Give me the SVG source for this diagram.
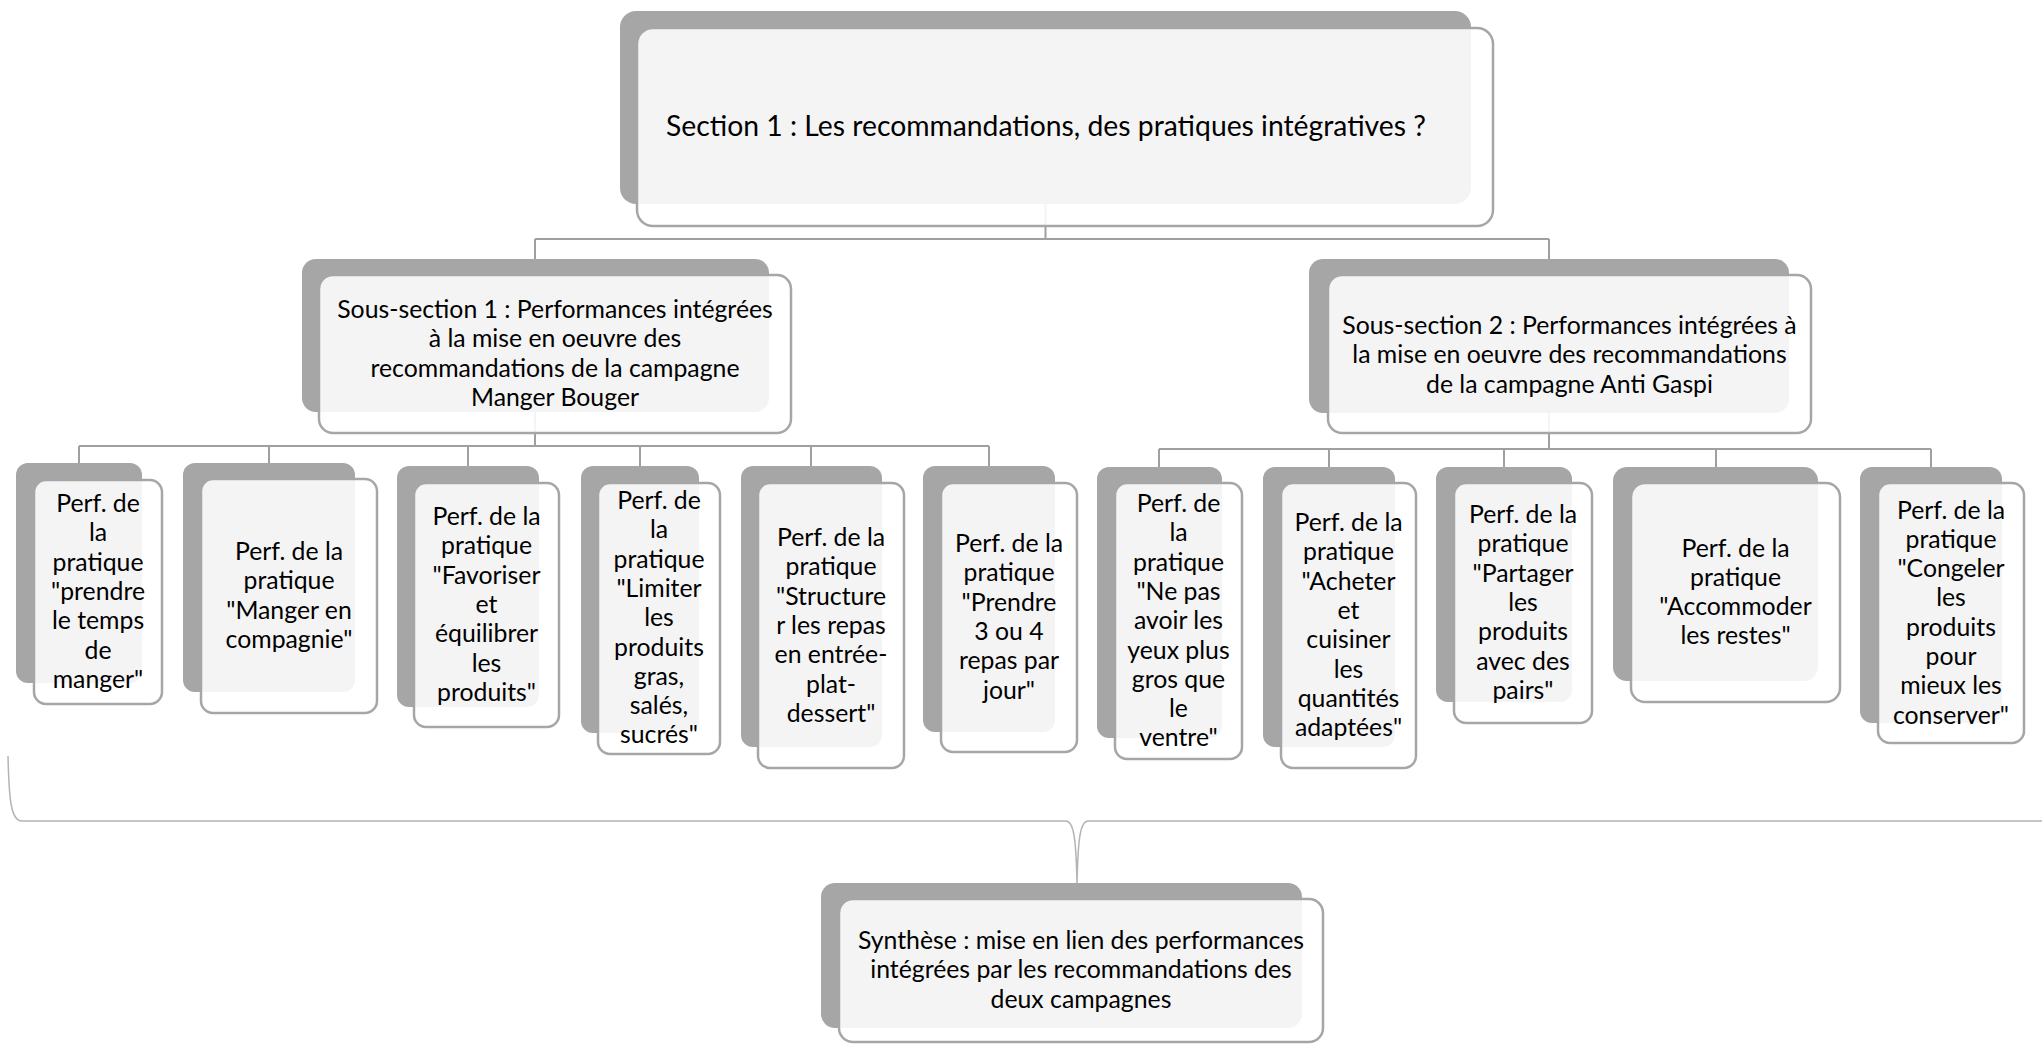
<svg xmlns="http://www.w3.org/2000/svg" width="2042" height="1046" viewBox="0 0 2042 1046">
<style>
.bg{fill:#ffffff}
.back{fill:#a6a6a6}
.front{fill:#ffffff;fill-opacity:0.88;stroke:#a6a6a6;stroke-width:2.5}
.t{font-family:Lato,"Open Sans",sans-serif;font-size:24.8px;fill:#000000;text-anchor:middle}
.title{font-size:28.3px}
.conn{fill:none;stroke:#a0a0a0;stroke-width:2}
.brace{fill:none;stroke:#b4b4b4;stroke-width:1.5}
</style>
<rect class="bg" x="0" y="0" width="2042" height="1046"/>
<g id="connectors">
<path class="conn" d="M1045.5,204 V239 M535,239 H1549 M535,239 V259 M1549,239 V259"/>
<path class="conn" d="M535,412 V446 M79,446 H989 M79,446 V463 M269,446 V463 M468,446 V466 M640,446 V466 M811,446 V466 M989,446 V466"/>
<path class="conn" d="M1549,413 V449 M1159,449 H1931 M1159,449 V467 M1329,449 V467 M1504,449 V467 M1716,449 V467 M1931,449 V467"/>
<path class="brace" d="M8,756 C9,800 11,821 22,821 L1066,821 C1074,821 1076,840 1077,883 C1078,840 1080,821 1088,821 L2050,821"/>
</g>
<g id="node-section1">
<rect class="back" x="620" y="11" width="851" height="193" rx="16"/>
<rect class="front" x="637" y="28" width="856" height="198" rx="16"/>
<text class="t title" x="1046" y="136">Section 1 : Les recommandations, des pratiques intégratives ?</text>
</g>
<g id="node-sous-section1">
<rect class="back" x="302" y="259" width="467" height="153" rx="14"/>
<rect class="front" x="319" y="275" width="472" height="158" rx="14"/>
<text class="t" y="318"><tspan x="555">Sous-section 1 : Performances intégrées</tspan><tspan x="555" dy="29.3">à la mise en oeuvre des</tspan><tspan x="555" dy="29.3">recommandations de la campagne</tspan><tspan x="555" dy="29.3">Manger Bouger</tspan></text>
</g>
<g id="node-sous-section2">
<rect class="back" x="1309" y="259" width="480" height="154" rx="14"/>
<rect class="front" x="1328" y="275" width="483" height="158" rx="14"/>
<text class="t" y="334"><tspan x="1569.5">Sous-section 2 : Performances intégrées à</tspan><tspan x="1569.5" dy="29.3">la mise en oeuvre des recommandations</tspan><tspan x="1569.5" dy="29.3">de la campagne Anti Gaspi</tspan></text>
</g>
<g id="node-leaf1">
<rect class="back" x="16" y="463" width="126" height="220" rx="12"/>
<rect class="front" x="34" y="480" width="128" height="224" rx="12"/>
<text class="t" y="512"><tspan x="98">Perf. de</tspan><tspan x="98" dy="29.3">la</tspan><tspan x="98" dy="29.3">pratique</tspan><tspan x="98" dy="29.3">"prendre</tspan><tspan x="98" dy="29.3">le temps</tspan><tspan x="98" dy="29.3">de</tspan><tspan x="98" dy="29.3">manger"</tspan></text>
</g>
<g id="node-leaf2">
<rect class="back" x="183" y="463" width="172" height="229" rx="12"/>
<rect class="front" x="201" y="479" width="176" height="234" rx="12"/>
<text class="t" y="560"><tspan x="289">Perf. de la</tspan><tspan x="289" dy="29.3">pratique</tspan><tspan x="289" dy="29.3">"Manger en</tspan><tspan x="289" dy="29.3">compagnie"</tspan></text>
</g>
<g id="node-leaf3">
<rect class="back" x="397" y="466" width="142" height="241" rx="12"/>
<rect class="front" x="414" y="483" width="145" height="244" rx="12"/>
<text class="t" y="525"><tspan x="486.5">Perf. de la</tspan><tspan x="486.5" dy="29.3">pratique</tspan><tspan x="486.5" dy="29.3">"Favoriser</tspan><tspan x="486.5" dy="29.3">et</tspan><tspan x="486.5" dy="29.3">équilibrer</tspan><tspan x="486.5" dy="29.3">les</tspan><tspan x="486.5" dy="29.3">produits"</tspan></text>
</g>
<g id="node-leaf4">
<rect class="back" x="581" y="466" width="118" height="267" rx="12"/>
<rect class="front" x="598" y="483" width="122" height="271" rx="12"/>
<text class="t" y="509"><tspan x="659">Perf. de</tspan><tspan x="659" dy="29.3">la</tspan><tspan x="659" dy="29.3">pratique</tspan><tspan x="659" dy="29.3">"Limiter</tspan><tspan x="659" dy="29.3">les</tspan><tspan x="659" dy="29.3">produits</tspan><tspan x="659" dy="29.3">gras,</tspan><tspan x="659" dy="29.3">salés,</tspan><tspan x="659" dy="29.3">sucrés"</tspan></text>
</g>
<g id="node-leaf5">
<rect class="back" x="741" y="466" width="141" height="281" rx="12"/>
<rect class="front" x="758" y="483" width="146" height="285" rx="12"/>
<text class="t" y="546"><tspan x="831">Perf. de la</tspan><tspan x="831" dy="29.3">pratique</tspan><tspan x="831" dy="29.3">"Structure</tspan><tspan x="831" dy="29.3">r les repas</tspan><tspan x="831" dy="29.3">en entrée-</tspan><tspan x="831" dy="29.3">plat-</tspan><tspan x="831" dy="29.3">dessert"</tspan></text>
</g>
<g id="node-leaf6">
<rect class="back" x="923" y="466" width="132" height="266" rx="12"/>
<rect class="front" x="941" y="483" width="136" height="269" rx="12"/>
<text class="t" y="552"><tspan x="1009">Perf. de la</tspan><tspan x="1009" dy="29.3">pratique</tspan><tspan x="1009" dy="29.3">"Prendre</tspan><tspan x="1009" dy="29.3">3 ou 4</tspan><tspan x="1009" dy="29.3">repas par</tspan><tspan x="1009" dy="29.3">jour"</tspan></text>
</g>
<g id="node-leaf7">
<rect class="back" x="1097" y="467" width="125" height="271" rx="12"/>
<rect class="front" x="1115" y="483" width="127" height="276" rx="12"/>
<text class="t" y="512"><tspan x="1178.5">Perf. de</tspan><tspan x="1178.5" dy="29.3">la</tspan><tspan x="1178.5" dy="29.3">pratique</tspan><tspan x="1178.5" dy="29.3">"Ne pas</tspan><tspan x="1178.5" dy="29.3">avoir les</tspan><tspan x="1178.5" dy="29.3">yeux plus</tspan><tspan x="1178.5" dy="29.3">gros que</tspan><tspan x="1178.5" dy="29.3">le</tspan><tspan x="1178.5" dy="29.3">ventre"</tspan></text>
</g>
<g id="node-leaf8">
<rect class="back" x="1263" y="467" width="132" height="280" rx="12"/>
<rect class="front" x="1281" y="483" width="135" height="285" rx="12"/>
<text class="t" y="531"><tspan x="1348.5">Perf. de la</tspan><tspan x="1348.5" dy="29.3">pratique</tspan><tspan x="1348.5" dy="29.3">"Acheter</tspan><tspan x="1348.5" dy="29.3">et</tspan><tspan x="1348.5" dy="29.3">cuisiner</tspan><tspan x="1348.5" dy="29.3">les</tspan><tspan x="1348.5" dy="29.3">quantités</tspan><tspan x="1348.5" dy="29.3">adaptées"</tspan></text>
</g>
<g id="node-leaf9">
<rect class="back" x="1436" y="467" width="136" height="235" rx="12"/>
<rect class="front" x="1454" y="483" width="138" height="240" rx="12"/>
<text class="t" y="523"><tspan x="1523">Perf. de la</tspan><tspan x="1523" dy="29.3">pratique</tspan><tspan x="1523" dy="29.3">"Partager</tspan><tspan x="1523" dy="29.3">les</tspan><tspan x="1523" dy="29.3">produits</tspan><tspan x="1523" dy="29.3">avec des</tspan><tspan x="1523" dy="29.3">pairs"</tspan></text>
</g>
<g id="node-leaf10">
<rect class="back" x="1613" y="467" width="205" height="214" rx="14"/>
<rect class="front" x="1631" y="483" width="209" height="219" rx="14"/>
<text class="t" y="556.5"><tspan x="1735.5">Perf. de la</tspan><tspan x="1735.5" dy="29.3">pratique</tspan><tspan x="1735.5" dy="29.3">"Accommoder</tspan><tspan x="1735.5" dy="29.3">les restes"</tspan></text>
</g>
<g id="node-leaf11">
<rect class="back" x="1860" y="467" width="142" height="256" rx="12"/>
<rect class="front" x="1878" y="483" width="146" height="260" rx="12"/>
<text class="t" y="518.5"><tspan x="1951">Perf. de la</tspan><tspan x="1951" dy="29.3">pratique</tspan><tspan x="1951" dy="29.3">"Congeler</tspan><tspan x="1951" dy="29.3">les</tspan><tspan x="1951" dy="29.3">produits</tspan><tspan x="1951" dy="29.3">pour</tspan><tspan x="1951" dy="29.3">mieux les</tspan><tspan x="1951" dy="29.3">conserver"</tspan></text>
</g>
<g id="node-synthese">
<rect class="back" x="821" y="883" width="481" height="145" rx="14"/>
<rect class="front" x="839" y="899" width="484" height="143" rx="14"/>
<text class="t" y="949"><tspan x="1081">Synthèse : mise en lien des performances</tspan><tspan x="1081" dy="29.3">intégrées par les recommandations des</tspan><tspan x="1081" dy="29.3">deux campagnes</tspan></text>
</g>
</svg>
